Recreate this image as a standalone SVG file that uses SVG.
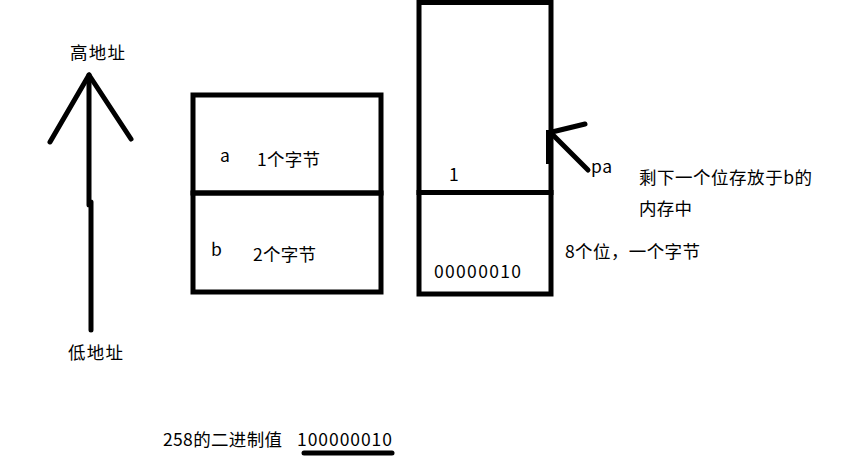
<svg xmlns="http://www.w3.org/2000/svg" width="854" height="469" viewBox="0 0 854 469">
<style>
.s{stroke:#000;stroke-width:5;fill:none}
.r{stroke-linecap:round}
text{font-family:"Microsoft YaHei","Noto Sans CJK SC","Noto Sans",sans-serif;font-size:17.5px;fill:#000}
</style>
<rect width="854" height="469" fill="#fff"/>
<g id="connectors">
<path class="s r" d="M89 75 L89 205 M91 202 L91 330"/>
<path class="s r" d="M89 75 L50 142 M89 75 L131 139"/>
<path class="s" d="M548.5 130 L548.5 164" stroke-width="4"/>
<path class="s r" d="M552 132 L585 124 M552 134 L588 170"/>
</g>
<g id="addr-high"><text x="70" y="59" textLength="55">高地址</text></g>
<g id="addr-low"><text x="68" y="359" textLength="55">低地址</text></g>
<g id="var-a">
<rect class="s" x="193" y="95" width="188" height="98"/>
<text x="220" y="162">a</text>
<text x="257" y="166" textLength="63">1个字节</text>
</g>
<g id="var-b">
<rect class="s" x="193" y="193" width="188" height="99"/>
<text x="211" y="256">b</text>
<text x="253" y="261" textLength="63">2个字节</text>
</g>
<g id="mem-high">
<rect class="s" x="419" y="2.5" width="132" height="190"/>
<text x="449" y="181">1</text>
</g>
<g id="mem-low">
<rect class="s" x="419" y="192.5" width="132" height="101.5"/>
<text x="434" y="278" textLength="87">00000010</text>
</g>
<g id="pa-label"><text x="591" y="173" textLength="21">pa</text></g>
<g id="note">
<text x="639" y="184" textLength="173">剩下一个位存放于b的</text>
<text x="639" y="215" textLength="53">内存中</text>
</g>
<g id="byte-note"><text x="565" y="258" textLength="135">8个位，一个字节</text></g>
<g id="binary">
<text x="163" y="446" textLength="119">258的二进制值</text>
<text x="297" y="446" textLength="95">100000010</text>
<path class="s r" d="M304 453 L392 453"/>
</g>
</svg>
